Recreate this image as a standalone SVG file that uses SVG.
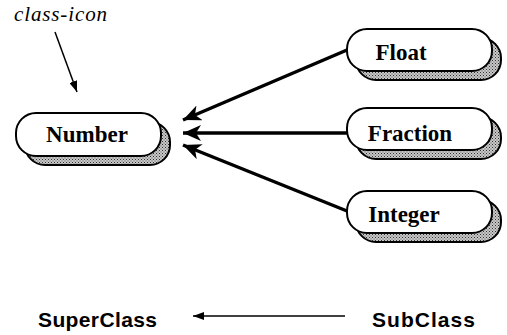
<svg xmlns="http://www.w3.org/2000/svg" width="507" height="335" viewBox="0 0 507 335">
<style>
.pill{fill:#fff;stroke:#000;stroke-width:2}
.shadow{fill:url(#dots);stroke:#000;stroke-width:2}
.lbl{font-family:"Liberation Serif","Times New Roman",serif;font-weight:bold;font-size:23px;fill:#000;text-anchor:middle}
.thick{stroke:#000;stroke-width:3.5;fill:none}
.thin{stroke:#000;stroke-width:1.5;fill:none}
.legend{font-family:"Liberation Sans",Arial,sans-serif;font-weight:bold;font-size:21px;fill:#000}
</style>
<defs>
<pattern id="dots" width="3" height="3" patternUnits="userSpaceOnUse">
<rect width="3" height="3" fill="#c8c8c8"/>
<rect x="0" y="0" width="1" height="1" fill="#333"/>
<rect x="1.5" y="1.5" width="1" height="1" fill="#555"/>
</pattern>
<marker id="bigHead" markerUnits="userSpaceOnUse" markerWidth="20" markerHeight="16" refX="18" refY="8" orient="auto">
<path d="M0,0 L18,8 L0,16 L5,8 Z" fill="#000"/>
</marker>
<marker id="smallHead" markerUnits="userSpaceOnUse" markerWidth="12" markerHeight="8" refX="11" refY="4" orient="auto">
<path d="M0,0 L11,4 L0,8 Z" fill="#000"/>
</marker>
</defs>

<text x="14" y="21" textLength="93" style="font-family:'Liberation Serif','Times New Roman',serif;font-style:italic;font-size:21px">class-icon</text>

<g id="connectors">
<line class="thin" x1="55" y1="32" x2="77" y2="92" marker-end="url(#smallHead)"/>
<line class="thick" x1="347" y1="50" x2="183" y2="120" marker-end="url(#bigHead)"/>
<line class="thick" x1="347" y1="133" x2="183" y2="133" marker-end="url(#bigHead)"/>
<line class="thick" x1="347" y1="211" x2="183" y2="145" marker-end="url(#bigHead)"/>
<line class="thin" x1="345" y1="316" x2="193" y2="316" marker-end="url(#smallHead)"/>
</g>

<g id="number">
<rect class="shadow" x="25" y="122" width="145" height="43" rx="20" ry="20"/>
<rect class="pill" x="16" y="113" width="145" height="43" rx="20" ry="20"/>
<text class="lbl" x="87" y="142">Number</text>
</g>

<g id="float">
<rect class="shadow" x="356" y="38" width="145" height="42" rx="20" ry="20"/>
<rect class="pill" x="347" y="29" width="145" height="42" rx="20" ry="20"/>
<text class="lbl" x="401" y="60">Float</text>
</g>

<g id="fraction">
<rect class="shadow" x="356" y="117" width="145" height="42" rx="20" ry="20"/>
<rect class="pill" x="347" y="108" width="145" height="42" rx="20" ry="20"/>
<text class="lbl" x="410" y="141">Fraction</text>
</g>

<g id="integer">
<rect class="shadow" x="356" y="200" width="145" height="42" rx="20" ry="20"/>
<rect class="pill" x="347" y="191" width="145" height="42" rx="20" ry="20"/>
<text class="lbl" x="404" y="222">Integer</text>
</g>

<text class="legend" x="38" y="327" textLength="119">SuperClass</text>
<text class="legend" x="372" y="327" textLength="103">SubClass</text>
</svg>
